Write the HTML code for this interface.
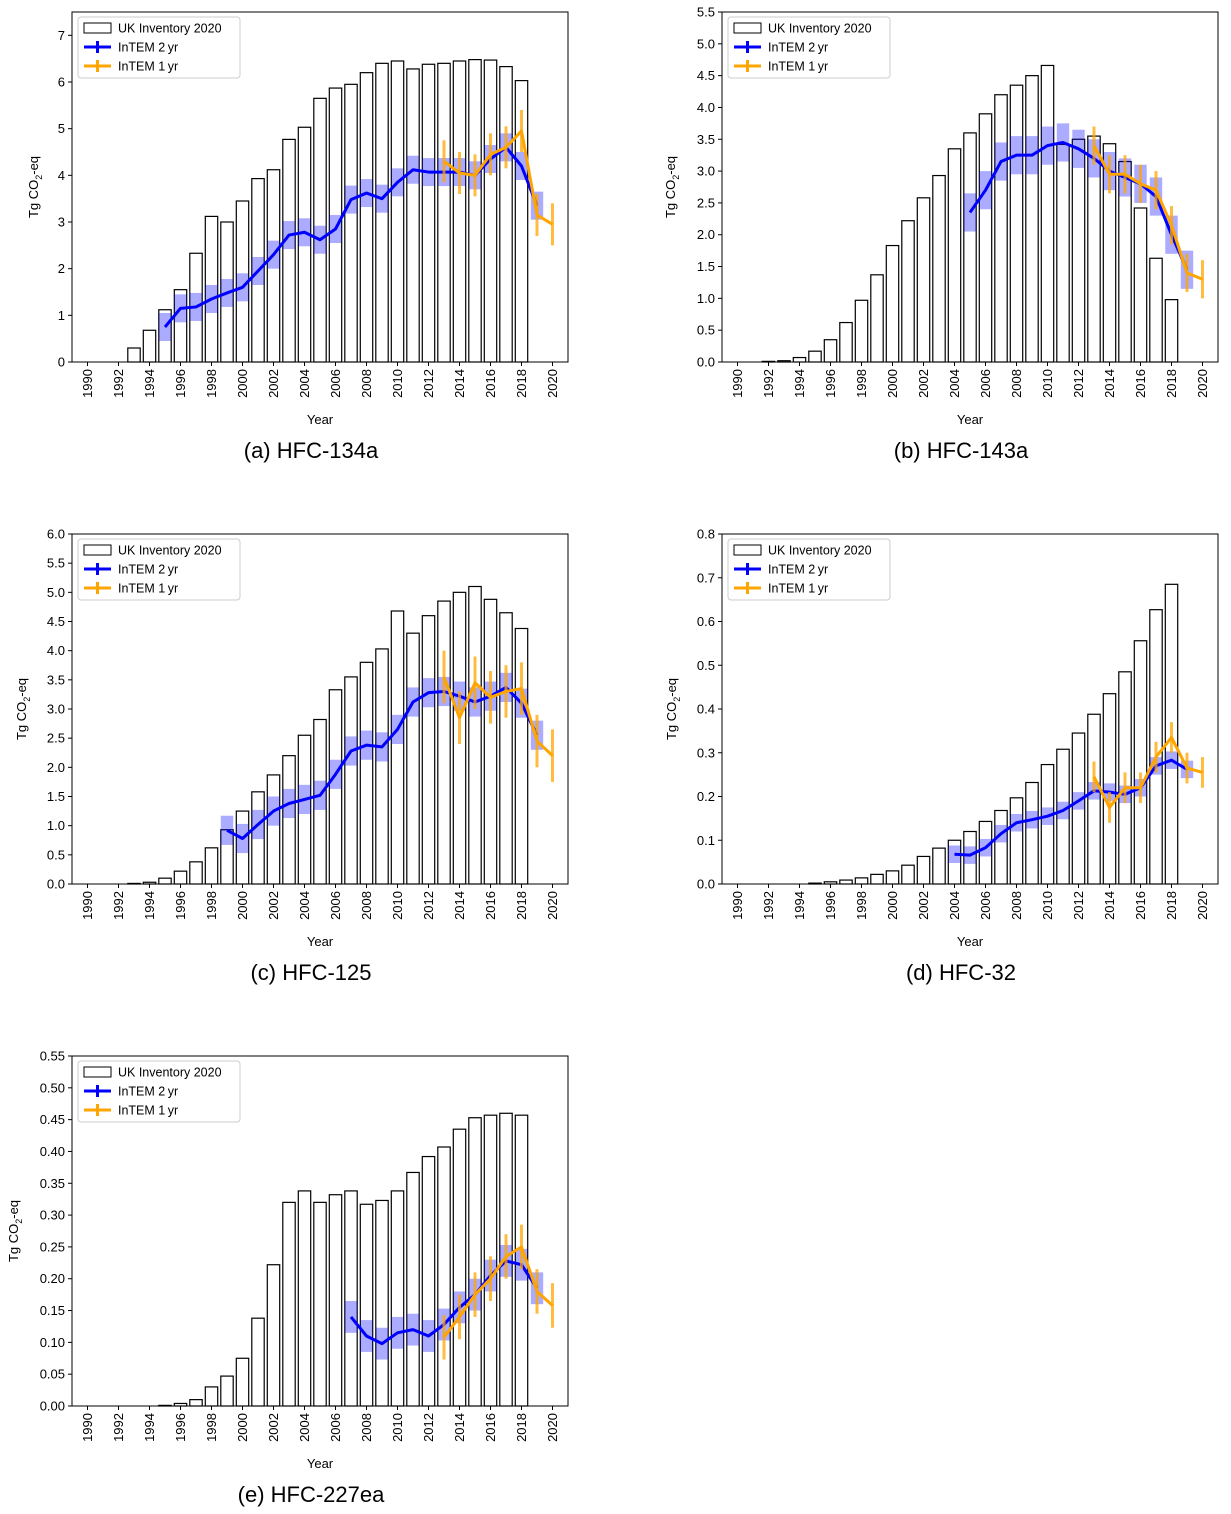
<!DOCTYPE html>
<html><head><meta charset="utf-8">
<style>
html,body{margin:0;padding:0;background:#fff;}
svg{display:block;font-family:"Liberation Sans","DejaVu Sans",sans-serif;}
</style></head>
<body>
<svg id="fig" width="1231" height="1514" viewBox="0 0 1231 1514" xmlns="http://www.w3.org/2000/svg"></svg>
<script>
// ---- data ----
const barsA_years=[1993,1994,1995,1996,1997,1998,1999,2000,2001,2002,2003,2004,2005,2006,2007,2008,2009,2010,2011,2012,2013,2014,2015,2016,2017,2018];
const barsA=[0.3,0.68,1.12,1.55,2.33,3.12,3.0,3.45,3.93,4.12,4.77,5.03,5.65,5.87,5.95,6.2,6.4,6.45,6.28,6.38,6.4,6.45,6.48,6.47,6.33,6.03];
const twoA_years=[1995,1996,1997,1998,1999,2000,2001,2002,2003,2004,2005,2006,2007,2008,2009,2010,2011,2012,2013,2014,2015,2016,2017,2018,2019];
const twoA=[0.75,1.15,1.18,1.35,1.48,1.6,1.95,2.3,2.72,2.78,2.62,2.85,3.48,3.62,3.5,3.85,4.12,4.07,4.07,4.07,4.0,4.35,4.6,4.2,3.35];
const oneA=[4.3,4.05,4.0,4.45,4.6,4.95,3.15,2.95];

const barsB_years=[1992,1993,1994,1995,1996,1997,1998,1999,2000,2001,2002,2003,2004,2005,2006,2007,2008,2009,2010,2011,2012,2013,2014,2015,2016,2017,2018];
const barsB=[0.01,0.02,0.07,0.17,0.35,0.62,0.97,1.37,1.83,2.22,2.58,2.93,3.35,3.6,3.9,4.2,4.35,4.5,4.66,3.42,3.5,3.55,3.43,3.15,2.42,1.63,0.98];
const twoB_years=[2005,2006,2007,2008,2009,2010,2011,2012,2013,2014,2015,2016,2017,2018,2019];
const twoB=[2.35,2.7,3.15,3.25,3.25,3.4,3.45,3.35,3.2,3.0,2.9,2.8,2.6,2.0,1.45];
const oneB=[3.4,2.95,2.95,2.8,2.7,2.15,1.4,1.3];

const barsC_years=[1993,1994,1995,1996,1997,1998,1999,2000,2001,2002,2003,2004,2005,2006,2007,2008,2009,2010,2011,2012,2013,2014,2015,2016,2017,2018];
const barsC=[0.01,0.03,0.1,0.22,0.38,0.62,0.93,1.25,1.58,1.87,2.2,2.55,2.82,3.33,3.55,3.8,4.03,4.68,4.3,4.6,4.85,5.0,5.1,4.88,4.65,4.38];
const twoC_years=[1999,2000,2001,2002,2003,2004,2005,2006,2007,2008,2009,2010,2011,2012,2013,2014,2015,2016,2017,2018,2019];
const twoC=[0.92,0.78,1.02,1.25,1.38,1.45,1.52,1.88,2.28,2.38,2.35,2.65,3.12,3.28,3.3,3.22,3.12,3.22,3.37,3.1,2.55];
const oneC=[3.55,2.85,3.45,3.2,3.3,3.35,2.45,2.2];

const barsD_years=[1995,1996,1997,1998,1999,2000,2001,2002,2003,2004,2005,2006,2007,2008,2009,2010,2011,2012,2013,2014,2015,2016,2017,2018];
const barsD=[0.002,0.005,0.009,0.014,0.022,0.03,0.043,0.063,0.082,0.1,0.12,0.143,0.168,0.197,0.232,0.273,0.308,0.345,0.388,0.435,0.485,0.556,0.627,0.685];
const twoD_years=[2004,2005,2006,2007,2008,2009,2010,2011,2012,2013,2014,2015,2016,2017,2018,2019];
const twoD=[0.068,0.066,0.083,0.115,0.14,0.147,0.155,0.168,0.19,0.213,0.21,0.205,0.22,0.27,0.283,0.262];
const oneD=[0.245,0.175,0.22,0.22,0.29,0.335,0.265,0.255];

const barsE_years=[1995,1996,1997,1998,1999,2000,2001,2002,2003,2004,2005,2006,2007,2008,2009,2010,2011,2012,2013,2014,2015,2016,2017,2018];
const barsE=[0.001,0.004,0.01,0.03,0.047,0.075,0.138,0.222,0.32,0.338,0.32,0.332,0.338,0.317,0.323,0.338,0.367,0.392,0.407,0.435,0.453,0.457,0.46,0.457];
const twoE_years=[2007,2008,2009,2010,2011,2012,2013,2014,2015,2016,2017,2018,2019];
const twoE=[0.14,0.11,0.098,0.115,0.12,0.11,0.128,0.155,0.175,0.205,0.228,0.222,0.185];
const oneE=[0.108,0.14,0.175,0.2,0.235,0.25,0.18,0.158];

const one_years=[2013,2014,2015,2016,2017,2018,2019,2020];
const xTickYears=[1990,1992,1994,1996,1998,2000,2002,2004,2006,2008,2010,2012,2014,2016,2018,2020];

const panels=[
 {id:'a',cap:'(a) HFC-134a',left:72,top:12,ymax:7.5,ticks:[0,1,2,3,4,5,6,7],dec:0,by:barsA_years,b:barsA,ty:twoA_years,t:twoA,o:oneA,band:0.3,err:0.45,ylx:38},
 {id:'b',cap:'(b) HFC-143a',left:722,top:12,ymax:5.5,ticks:[0,0.5,1,1.5,2,2.5,3,3.5,4,4.5,5,5.5],dec:1,by:barsB_years,b:barsB,ty:twoB_years,t:twoB,o:oneB,band:0.3,err:0.3,ylx:675},
 {id:'c',cap:'(c) HFC-125',left:72,top:534,ymax:6,ticks:[0,0.5,1,1.5,2,2.5,3,3.5,4,4.5,5,5.5,6],dec:1,by:barsC_years,b:barsC,ty:twoC_years,t:twoC,o:oneC,band:0.25,err:0.45,ylx:26},
 {id:'d',cap:'(d) HFC-32',left:722,top:534,ymax:0.8,ticks:[0,0.1,0.2,0.3,0.4,0.5,0.6,0.7,0.8],dec:1,by:barsD_years,b:barsD,ty:twoD_years,t:twoD,o:oneD,band:0.02,err:0.035,ylx:676},
 {id:'e',cap:'(e) HFC-227ea',left:72,top:1056,ymax:0.55,ticks:[0,0.05,0.1,0.15,0.2,0.25,0.3,0.35,0.4,0.45,0.5,0.55],dec:2,by:barsE_years,b:barsE,ty:twoE_years,t:twoE,o:oneE,band:0.025,err:0.035,ylx:18}
];

const NS='http://www.w3.org/2000/svg';
const fig=document.getElementById('fig');
function mk(tag,attrs,parent,text){const e=document.createElementNS(NS,tag);for(const k in attrs)e.setAttribute(k,attrs[k]);if(text!==undefined)e.textContent=text;(parent||fig).appendChild(e);return e;}

const W=496,H=350,XMIN=1989,XMAX=2021;
panels.forEach(p=>{
 const g=mk('g',{});
 
 
 const X=v=>p.left+(v-XMIN)/(XMAX-XMIN)*W;
 const Y=v=>p.top+H-(v/p.ymax)*H;
 p.by.forEach((yr,i)=>{
  const r=mk('rect',{x:X(yr-0.4),y:Y(p.b[i]),width:X(yr+0.4)-X(yr-0.4),height:Y(0)-Y(p.b[i]),fill:'#fff',stroke:'#000','stroke-width':1.2},g);
  
  
 });
 p.ty.forEach((yr,i)=>{
  const r=mk('rect',{x:X(yr-0.4),y:Y(p.t[i]+p.band),width:X(yr+0.4)-X(yr-0.4),height:Y(p.t[i]-p.band)-Y(p.t[i]+p.band),fill:'#0000ff','fill-opacity':0.33},g);
  
  
 });
 const l2=mk('polyline',{points:p.ty.map((yr,i)=>X(yr)+','+Y(p.t[i])).join(' '),fill:'none',stroke:'#0000ff','stroke-width':3,'stroke-linejoin':'round'},g);
 
 
 one_years.forEach((yr,i)=>{
  const e=mk('line',{x1:X(yr),x2:X(yr),y1:Y(p.o[i]+p.err),y2:Y(Math.max(0,p.o[i]-p.err)),stroke:'#ffa500','stroke-opacity':0.75,'stroke-width':3},g);
  
  
 });
 const l1=mk('polyline',{points:one_years.map((yr,i)=>X(yr)+','+Y(p.o[i])).join(' '),fill:'none',stroke:'#ffa500','stroke-width':3,'stroke-linejoin':'round'},g);
 
 
 const f=mk('rect',{x:p.left,y:p.top,width:W,height:H,fill:'none',stroke:'#000','stroke-width':1},g);
 
 
 p.ticks.forEach(t=>{
  mk('line',{x1:p.left-4,x2:p.left,y1:Y(t),y2:Y(t),stroke:'#000'},g);
  const tl=mk('text',{x:p.left-7,y:Y(t)+4.5,'text-anchor':'end','font-size':13},g,t.toFixed(p.dec));
  
  
 });
 xTickYears.forEach(yr=>{
  mk('line',{x1:X(yr),x2:X(yr),y1:p.top+H,y2:p.top+H+4,stroke:'#000'},g);
  const tl=mk('text',{x:0,y:0,'text-anchor':'end','font-size':13,transform:'translate('+(X(yr)+4.5)+','+(p.top+H+7)+') rotate(-90)'},g,String(yr));
  
  
 });
 const xl=mk('text',{x:p.left+W/2,y:p.top+H+62,'text-anchor':'middle','font-size':13},g,'Year');
 
 
 const yl=mk('text',{x:0,y:0,'text-anchor':'middle','font-size':13,transform:'translate('+p.ylx+','+(p.top+H/2)+') rotate(-90)'},g);
 
 
 mk('tspan',{},yl,'Tg CO');
 mk('tspan',{dy:4,'font-size':9},yl,'2');
 mk('tspan',{dy:-4},yl,'-eq');
 const cap=mk('text',{x:p.left+W/2-9,y:p.top+H+96,'text-anchor':'middle','font-size':22},g,p.cap);
 
 
 const lg=mk('g',{},g);
 
 
 const lx=p.left+6,ly=p.top+5;
 mk('rect',{x:lx,y:ly,width:162,height:61,rx:3,fill:'#fff','fill-opacity':0.85,stroke:'#ccc'},lg);
 mk('rect',{x:lx+6,y:ly+6,width:27,height:10,fill:'#fff',stroke:'#000'},lg);
 mk('text',{x:lx+40,y:ly+15.5,'font-size':12.5},lg,'UK Inventory 2020');
 mk('line',{x1:lx+6,x2:lx+33,y1:ly+30,y2:ly+30,stroke:'#0000ff','stroke-width':3},lg);
 mk('line',{x1:lx+19.5,x2:lx+19.5,y1:ly+24,y2:ly+36,stroke:'#0000ff','stroke-width':3},lg);
 mk('text',{x:lx+40,y:ly+34.5,'font-size':12.5},lg,'InTEM 2\u2009yr');
 mk('line',{x1:lx+6,x2:lx+33,y1:ly+49,y2:ly+49,stroke:'#ffa500','stroke-width':3},lg);
 mk('line',{x1:lx+19.5,x2:lx+19.5,y1:ly+43,y2:ly+55,stroke:'#ffa500','stroke-width':3},lg);
 mk('text',{x:lx+40,y:ly+53.5,'font-size':12.5},lg,'InTEM 1\u2009yr');
});
</script>
</body></html>
